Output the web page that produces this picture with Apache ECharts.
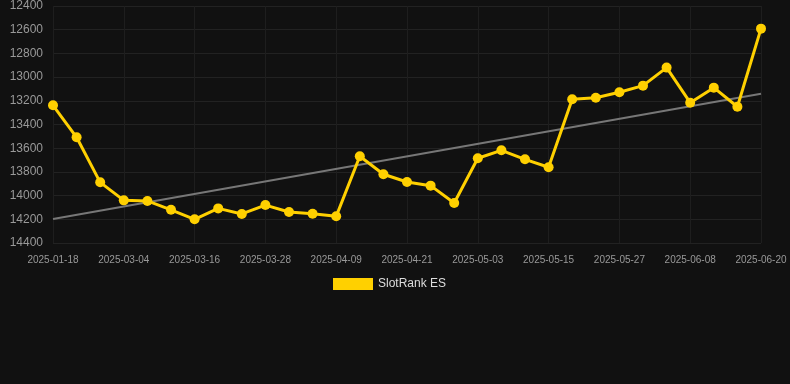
<!DOCTYPE html>
<html>
<head>
<meta charset="utf-8">
<script src="https://cdn.jsdelivr.net/npm/echarts@6/dist/echarts.min.js"></script>
<style>
html,body{margin:0;padding:0;background:#111111;}
#c{width:790px;height:384px;}
</style>
</head>
<body>
<div id="c"></div>
<script>
const categories = [
  '2025-01-18','2025-02-24','2025-02-28','2025-03-04','2025-03-08','2025-03-12',
  '2025-03-16','2025-03-20','2025-03-24','2025-03-28','2025-04-01','2025-04-05',
  '2025-04-09','2025-04-13','2025-04-17','2025-04-21','2025-04-25','2025-04-29',
  '2025-05-03','2025-05-07','2025-05-11','2025-05-15','2025-05-19','2025-05-23',
  '2025-05-27','2025-05-31','2025-06-04','2025-06-08','2025-06-12','2025-06-16',
  '2025-06-20'
];
const rankValues = [
  13238, 13508, 13888, 14040, 14045, 14120, 14200, 14108, 14155, 14080, 14138, 14153,
  14175, 13668, 13820, 13885, 13916, 14062, 13685, 13618, 13694, 13761, 13187, 13174,
  13128, 13072, 12920, 13216, 13089, 13250, 12591
];
const trendEnds = [14197, 13140];
const yTicks = { min: 12400, max: 14400, step: 200 };

const trendData = categories.map((c, i) => i === 0 ? trendEnds[0] : (i === categories.length - 1 ? trendEnds[1] : null));

const chart = echarts.init(document.getElementById('c'), null, { renderer: 'canvas' });
chart.setOption({
  backgroundColor: '#111111',
  animation: false,
  grid: { left: 53, right: 29, top: 6, bottom: 141, containLabel: false },
  legend: {
    data: ['SlotRank ES'],
    top: 273,
    left: 328,
    itemWidth: 40,
    itemHeight: 12,
    icon: 'rect',
    textStyle: { color: '#dddddd', fontSize: 12, fontFamily: 'Arial, Liberation Sans, sans-serif' }
  },
  xAxis: {
    type: 'category',
    data: categories,
    boundaryGap: false,
    axisLine: { show: false },
    axisTick: { show: false },
    axisLabel: { interval: 2, color: '#999999', fontSize: 10, margin: 12, fontFamily: 'Arial, Liberation Sans, sans-serif' },
    splitLine: { show: true, interval: 2, lineStyle: { color: '#1e1e1e' } }
  },
  yAxis: {
    type: 'value',
    inverse: true,
    min: yTicks.min,
    max: yTicks.max,
    interval: yTicks.step,
    axisLine: { show: false },
    axisTick: { show: false },
    axisLabel: { color: '#999999', fontSize: 12, margin: 10, formatter: v => String(v), fontFamily: 'Arial, Liberation Sans, sans-serif' },
    splitLine: { show: true, lineStyle: { color: '#222222' } }
  },
  series: [
    {
      name: 'SlotRank ES',
      type: 'line',
      data: rankValues,
      symbol: 'circle',
      symbolSize: 10,
      itemStyle: { color: '#FFD000' },
      lineStyle: { color: '#FFD000', width: 3 },
      z: 3
    },
    {
      name: 'Trend',
      type: 'line',
      data: trendData,
      connectNulls: true,
      symbol: 'none',
      lineStyle: { color: '#777777', width: 2 },
      itemStyle: { color: '#777777' },
      z: 2
    }
  ]
});
</script>
</body>
</html>
